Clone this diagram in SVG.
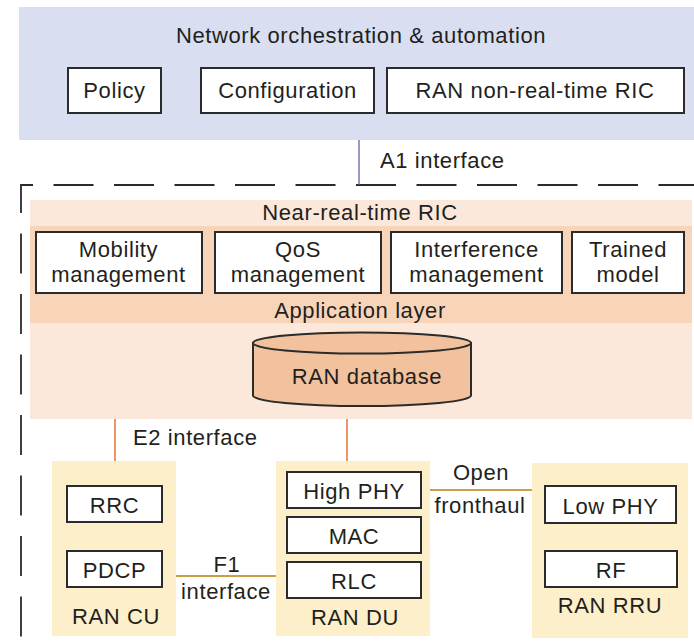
<svg xmlns="http://www.w3.org/2000/svg" width="694" height="644" viewBox="0 0 694 644">
  <style>
    text { font-family: "Liberation Sans", Arial, sans-serif; font-size: 22px; letter-spacing: 0.6px; fill: #231f20; text-anchor: middle; }
    .box { fill: #ffffff; stroke: #2b2b2b; stroke-width: 2; }
    .unit { fill: #fcefc9; }
    .a1 { stroke: #5a55a0; stroke-width: 1.2; fill: none; }
    .e2 { stroke: #ea7a3e; stroke-width: 1.6; fill: none; }
    .link { stroke: #c9a044; stroke-width: 1.8; fill: none; }
    .frame { stroke: #2b2b2b; stroke-width: 1.8; fill: none; stroke-dasharray: 40 20.5; stroke-dashoffset: 53; }
  </style>

  <!-- Orchestration layer -->
  <g id="orchestration">
    <rect x="19" y="7" width="675" height="133" fill="#d9dff0"/>
    <text x="361" y="43">Network orchestration &amp; automation</text>
  </g>
  <g id="policy">
    <rect class="box" x="68" y="68" width="93" height="45"/>
    <text x="114.5" y="98">Policy</text>
  </g>
  <g id="configuration">
    <rect class="box" x="201" y="68" width="173" height="45"/>
    <text x="287.5" y="98">Configuration</text>
  </g>
  <g id="non-rt-ric">
    <rect class="box" x="387" y="68" width="297" height="45"/>
    <text x="535" y="98">RAN non-real-time RIC</text>
  </g>

  <!-- Dashed boundary of the RAN domain -->
  <path class="frame" d="M21,644 V185 H694"/>

  <!-- Near-real-time RIC -->
  <g id="near-rt-ric">
    <rect x="30" y="200" width="662" height="219" fill="#fbe8da"/>
    <rect x="30" y="226" width="662" height="97" fill="#f8d5b9"/>
    <text x="360" y="220">Near-real-time RIC</text>
    <text x="360" y="318">Application layer</text>
  </g>
  <g id="mobility">
    <rect class="box" x="36" y="232" width="166" height="61"/>
    <text x="118.5" y="257">Mobility</text>
    <text x="118.5" y="282">management</text>
  </g>
  <g id="qos">
    <rect class="box" x="215" y="232" width="166" height="61"/>
    <text x="298" y="257">QoS</text>
    <text x="298" y="282">management</text>
  </g>
  <g id="interference">
    <rect class="box" x="391" y="232" width="171" height="61"/>
    <text x="476.5" y="257">Interference</text>
    <text x="476.5" y="282">management</text>
  </g>
  <g id="trained-model">
    <rect class="box" x="572" y="232" width="112" height="61"/>
    <text x="628" y="257">Trained</text>
    <text x="628" y="282">model</text>
  </g>
  <g id="ran-database">
    <path d="M253,343 V395.5 A109,10.5 0 0 0 471,395.5 V343 Z" fill="#f2c29e" stroke="#2b2b2b" stroke-width="2"/>
    <ellipse cx="362" cy="343" rx="109" ry="10.5" fill="#f2c29e" stroke="#2b2b2b" stroke-width="2"/>
    <text x="367" y="384">RAN database</text>
  </g>

  <!-- RAN units -->
  <g id="ran-cu">
    <rect class="unit" x="52" y="461" width="124" height="175"/>
    <text x="116" y="624">RAN CU</text>
  </g>
  <g id="rrc">
    <rect class="box" x="67" y="486" width="95" height="36"/>
    <text x="114.5" y="513">RRC</text>
  </g>
  <g id="pdcp">
    <rect class="box" x="67" y="551" width="95" height="36"/>
    <text x="114.5" y="578">PDCP</text>
  </g>

  <g id="ran-du">
    <rect class="unit" x="276" y="461" width="154" height="175"/>
    <text x="355" y="625">RAN DU</text>
  </g>
  <g id="high-phy">
    <rect class="box" x="287" y="472" width="134" height="36"/>
    <text x="354" y="499">High PHY</text>
  </g>
  <g id="mac">
    <rect class="box" x="287" y="517" width="134" height="36"/>
    <text x="354" y="544">MAC</text>
  </g>
  <g id="rlc">
    <rect class="box" x="287" y="562" width="134" height="36"/>
    <text x="354" y="589">RLC</text>
  </g>

  <g id="ran-rru">
    <rect class="unit" x="532" y="463" width="156" height="175"/>
    <text x="610" y="613">RAN RRU</text>
  </g>
  <g id="low-phy">
    <rect class="box" x="545" y="486" width="131" height="37"/>
    <text x="610.5" y="514">Low PHY</text>
  </g>
  <g id="rf">
    <rect class="box" x="545" y="551" width="132" height="36"/>
    <text x="611" y="578">RF</text>
  </g>

  <!-- Interfaces -->
  <g id="connectors">
    <line class="a1" x1="359" y1="140" x2="359" y2="185"/>
    <line class="e2" x1="115" y1="419" x2="115" y2="461"/>
    <line class="e2" x1="347" y1="419" x2="347" y2="461"/>
    <line class="link" x1="176" y1="576" x2="276" y2="576"/>
    <line class="link" x1="430" y1="490" x2="532" y2="490"/>
    <text x="380" y="168" style="text-anchor:start">A1 interface</text>
    <text x="133" y="445" style="text-anchor:start">E2 interface</text>
    <text x="227" y="572">F1</text>
    <text x="226" y="599">interface</text>
    <text x="481" y="480">Open</text>
    <text x="480" y="513">fronthaul</text>
  </g>
</svg>
